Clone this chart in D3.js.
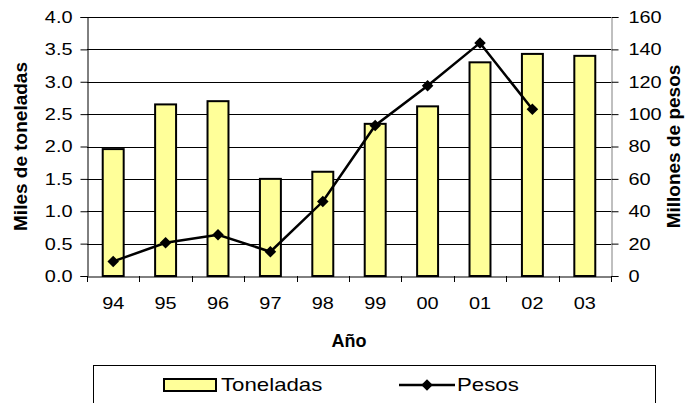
<!DOCTYPE html>
<html><head><meta charset="utf-8">
<script src="https://cdn.jsdelivr.net/npm/d3@7"></script>
<style>
html,body{margin:0;padding:0;background:#fff;}
svg{display:block;font-family:"Liberation Sans",Arial,sans-serif;}
</style></head>
<body>
<svg id="c" width="691" height="403"></svg>
<script>
const years = ["94","95","96","97","98","99","00","01","02","03"];
const toneladas = [1.96, 2.65, 2.70, 1.50, 1.61, 2.35, 2.62, 3.30, 3.43, 3.40];
const pesos = [9, 20.5, 25.5, 15, 46, 93, 117.5, 144, 103, null];
const leftTicks = [0,0.5,1,1.5,2,2.5,3,3.5,4];
const rightTicks = [0,20,40,60,80,100,120,140,160];

const svg = d3.select("#c");
const L = 87, R = 611, T = 17, B = 276;
const x = d3.scaleBand().domain(years).range([L, R]);
const yL = d3.scaleLinear().domain([0,4]).range([B, T]);
const yR = d3.scaleLinear().domain([0,160]).range([B, T]);
const bw = x.bandwidth()/2.5;

function stretch(sel, sx){
  sel.each(function(){
    const w = this.getComputedTextLength();
    this.setAttribute("textLength", w*sx);
    this.setAttribute("lengthAdjust", "spacingAndGlyphs");
  });
}

// gridlines
svg.append("g").selectAll("line").data(leftTicks.slice(1)).join("line")
  .attr("x1", L).attr("x2", R).attr("y1", d=>Math.round(yL(d))+0.5).attr("y2", d=>Math.round(yL(d))+0.5)
  .attr("stroke", "#000").attr("stroke-width", 1);

// bars
svg.append("g").selectAll("rect").data(years).join("rect")
  .attr("x", (d,i)=>x(d)+x.bandwidth()/2-bw/2)
  .attr("y", (d,i)=>yL(toneladas[i]))
  .attr("width", bw)
  .attr("height", (d,i)=>B-yL(toneladas[i]))
  .attr("fill", "#FFFF99").attr("stroke", "#000").attr("stroke-width", 2);

// axes
const fs = "17px";
const SX = 1.17;
const gl = svg.append("g").attr("transform", `translate(${L+0.5},0)`)
  .call(d3.axisLeft(yL).tickValues(leftTicks).tickFormat(d3.format(".1f")).tickSize(7).tickPadding(8));
const gr = svg.append("g").attr("transform", `translate(${R+0.5},0)`)
  .call(d3.axisRight(yR).tickValues(rightTicks).tickFormat(d3.format("d")).tickSize(7).tickPadding(10));
[gl, gr].forEach(g=>{
  g.select(".domain").attr("stroke", "#000").attr("stroke-width",1);
  g.selectAll(".tick line").attr("stroke","#000");
  g.selectAll("text").attr("font-size", fs).attr("font-family","Liberation Sans, Arial, sans-serif").attr("fill","#000");
  stretch(g.selectAll("text"), SX);
});
gr.select(".domain").attr("stroke", "#808080");

// x axis
const gx = svg.append("g").attr("transform", `translate(0,${B+0.5})`)
  .call(d3.axisBottom(x).tickSize(0).tickPadding(20));
gx.select(".domain").attr("stroke","#000");
gx.selectAll("text").attr("font-size", fs).attr("font-family","Liberation Sans, Arial, sans-serif").attr("fill","#000");
stretch(gx.selectAll("text"), SX);
const bounds = years.map(d=>x(d)).concat([R]);
svg.append("g").selectAll("line").data(bounds).join("line")
  .attr("x1", d=>Math.round(d)+0.5).attr("x2", d=>Math.round(d)+0.5)
  .attr("y1", B).attr("y2", B+6).attr("stroke","#000");

// line
const pts = years.map((d,i)=>({x:x(d)+x.bandwidth()/2, v:pesos[i]})).filter(p=>p.v!=null);
svg.append("path").datum(pts)
  .attr("d", d3.line().x(p=>p.x).y(p=>yR(p.v)))
  .attr("fill","none").attr("stroke","#000").attr("stroke-width",2.5);
const dia = d3.symbol().type(d3.symbolDiamond2).size(85);
svg.append("g").selectAll("path").data(pts).join("path")
  .attr("transform", p=>`translate(${p.x},${yR(p.v)})`)
  .attr("d", dia()).attr("fill","#000");

// titles
svg.append("text").attr("transform", `translate(20,${(T+B)/2}) rotate(-90)`)
  .attr("text-anchor","middle").attr("dominant-baseline","central")
  .attr("font-size","19px").attr("font-weight","bold").text("Miles de toneladas");
svg.append("text").attr("transform", `translate(673,${(T+B)/2}) rotate(-90)`)
  .attr("text-anchor","middle").attr("dominant-baseline","central")
  .attr("font-size","19px").attr("font-weight","bold").text("Millones de pesos");
svg.append("text").attr("x", (L+R)/2).attr("y", 347)
  .attr("text-anchor","middle").attr("font-size","18px").attr("font-weight","bold").text("Año");

// legend
svg.append("rect").attr("x",93.5).attr("y",365.5).attr("width",562).attr("height",60)
  .attr("fill","#fff").attr("stroke","#000");
svg.append("rect").attr("x",164).attr("y",379).attr("width",52).attr("height",12)
  .attr("fill","#FFFF99").attr("stroke","#000").attr("stroke-width",2);
const t1 = svg.append("text").attr("x",221).attr("y",391).attr("font-size","19px").text("Toneladas");
svg.append("line").attr("x1",399).attr("x2",455).attr("y1",385).attr("y2",385).attr("stroke","#000").attr("stroke-width",2.5);
svg.append("path").attr("transform","translate(427,385)").attr("d", dia()).attr("fill","#000");
const t2 = svg.append("text").attr("x",457).attr("y",391).attr("font-size","19px").text("Pesos");
stretch(t1, SX); stretch(t2, SX);
</script>
</body></html>
